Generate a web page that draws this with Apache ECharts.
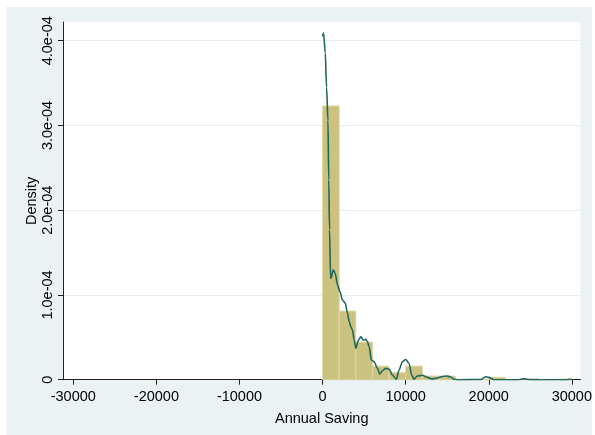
<!DOCTYPE html>
<html>
<head>
<meta charset="utf-8">
<script src="https://cdn.jsdelivr.net/npm/echarts@6/dist/echarts.min.js"></script>
<style>
  html, body { margin: 0; padding: 0; background: #ffffff; }
  #chart { width: 595px; height: 435px; }
</style>
</head>
<body>
<div id="chart"></div>
<script>
// Histogram of annual saving (density scale), bins of width 2000
const binWidth = 2000;
const binStarts = [0, 2000, 4000, 6000, 8000, 10000, 12000, 14000, 16000, 18000, 20000, 22000, 24000, 26000, 28000];
const binDensity = [3.23e-4, 8.1e-5, 4.45e-5, 1.6e-5, 8.3e-6, 1.6e-5, 4.4e-6, 4.0e-6, 0, 0, 2.8e-6, 0, 1.2e-6, 0, 6e-7];

// Kernel density estimate of the same variable
const kdX = [0, 120, 324, 480, 648, 744, 840, 960, 1008, 1284, 1524, 1800, 2088, 2400, 2724, 3000, 3204, 3408, 3600,
  3804, 4008, 4320, 4608, 4884, 5208, 5400, 5604, 5880, 6204, 6600, 6888, 7200, 7608, 8004, 8400, 8880, 9204, 9600,
  10008, 10404, 10728, 11004, 11400, 12000, 12600, 13200, 13800, 14400, 14844, 15408, 15804, 16404, 19044, 19608,
  20004, 20604, 23600, 24200, 24900, 29300, 29800, 30100];
const kdY = [4.05e-4, 4.09e-4, 3.855e-4, 3.45e-4, 3.06e-4, 2.36e-4, 1.77e-4, 1.21e-4, 1.197e-4, 1.295e-4, 1.256e-4,
  1.117e-4, 1.04e-4, 9.4e-5, 9.04e-5, 7.87e-5, 6.84e-5, 6.25e-5, 5.86e-5, 4.68e-5, 3.7e-5, 4.68e-5, 5.07e-5,
  4.68e-5, 4.77e-5, 4.48e-5, 3.89e-5, 2.32e-5, 2.12e-5, 1.35e-5, 6.7e-6, 1.06e-5, 1.35e-5, 1.23e-5, 5.5e-6, 5e-7,
  1.14e-5, 2.12e-5, 2.38e-5, 1.94e-5, 5.5e-6, 5e-7, 4.4e-6, 5.2e-6, 2.8e-6, 8e-7, 2e-6, 3.8e-6, 4.4e-6, 3.5e-6,
  5e-7, 0, 2e-7, 3.5e-6, 2.8e-6, 0, 0, 1e-6, 0, 0, 5e-7, 0];

// Axis ticks
const xTicks = [-30000, -20000, -10000, 0, 10000, 20000, 30000];
const yTicks = [0, 1e-4, 2e-4, 3e-4, 4e-4];

const font = "'Liberation Sans', Arial, sans-serif";
const chart = echarts.init(document.getElementById('chart'), null, { renderer: 'canvas' });

chart.setOption({
  animation: false,
  backgroundColor: '#ffffff',
  graphic: [{
    type: 'rect', z: -10, silent: true,
    shape: { x: 6, y: 7, width: 586, height: 428 },
    style: { fill: '#eaf2f3' }
  }],
  grid: {
    left: 63, right: 13, top: 22, bottom: 55.3,
    show: true, backgroundColor: '#ffffff', borderWidth: 0
  },
  xAxis: {
    type: 'value',
    min: -31240, max: 31040,
    name: 'Annual Saving',
    nameLocation: 'middle',
    nameGap: 32,
    nameMoveOverlap: false,
    nameTextStyle: { fontFamily: font, fontSize: 14.5, color: '#000' },
    axisLine: { show: true, onZero: false, lineStyle: { color: '#222', width: 1 } },
    axisTick: { show: true, length: 5, customValues: xTicks, lineStyle: { color: '#222' } },
    axisLabel: {
      customValues: xTicks, margin: 10,
      fontFamily: font, fontSize: 14.5, color: '#000',
      formatter: v => String(v)
    },
    splitLine: { show: false }
  },
  yAxis: {
    type: 'value',
    min: 0, max: 4.2206e-4,
    name: 'Density',
    nameLocation: 'middle',
    nameRotate: 90,
    nameGap: 24,
    nameMoveOverlap: false,
    nameTextStyle: { fontFamily: font, fontSize: 14.5, color: '#000' },
    axisLine: { show: true, onZero: false, lineStyle: { color: '#222', width: 1 } },
    axisTick: { show: true, length: 5, customValues: yTicks, lineStyle: { color: '#222' } },
    axisLabel: {
      customValues: yTicks, rotate: 90, margin: 8,
      fontFamily: font, fontSize: 14.5, color: '#000',
      formatter: v => v === 0 ? '0' : (v * 1e4).toFixed(1) + 'e-04'
    },
    splitLine: { show: true, lineStyle: { color: '#e4edf0', width: 1 } }
  },
  series: [
    {
      type: 'custom',
      name: 'histogram',
      data: binStarts.map((s, i) => [s, binDensity[i]]),
      renderItem: (params, api) => {
        const x0 = api.value(0);
        const h = api.value(1);
        const p0 = api.coord([x0, h]);
        const p1 = api.coord([x0 + binWidth, 0]);
        return {
          type: 'rect',
          shape: { x: p0[0], y: p0[1], width: p1[0] - p0[0], height: p1[1] - p0[1] },
          style: { fill: '#cbc27f', stroke: '#ddd7a8', lineWidth: 1 }
        };
      },
      z: 2
    },
    {
      type: 'line',
      name: 'kdensity',
      data: kdX.map((x, i) => [x, kdY[i]]),
      showSymbol: false,
      smooth: 0.3,
      smoothMonotone: 'x',
      lineStyle: { color: '#1f665d', width: 1.6 },
      z: 3
    }
  ]
});
</script>
</body>
</html>
